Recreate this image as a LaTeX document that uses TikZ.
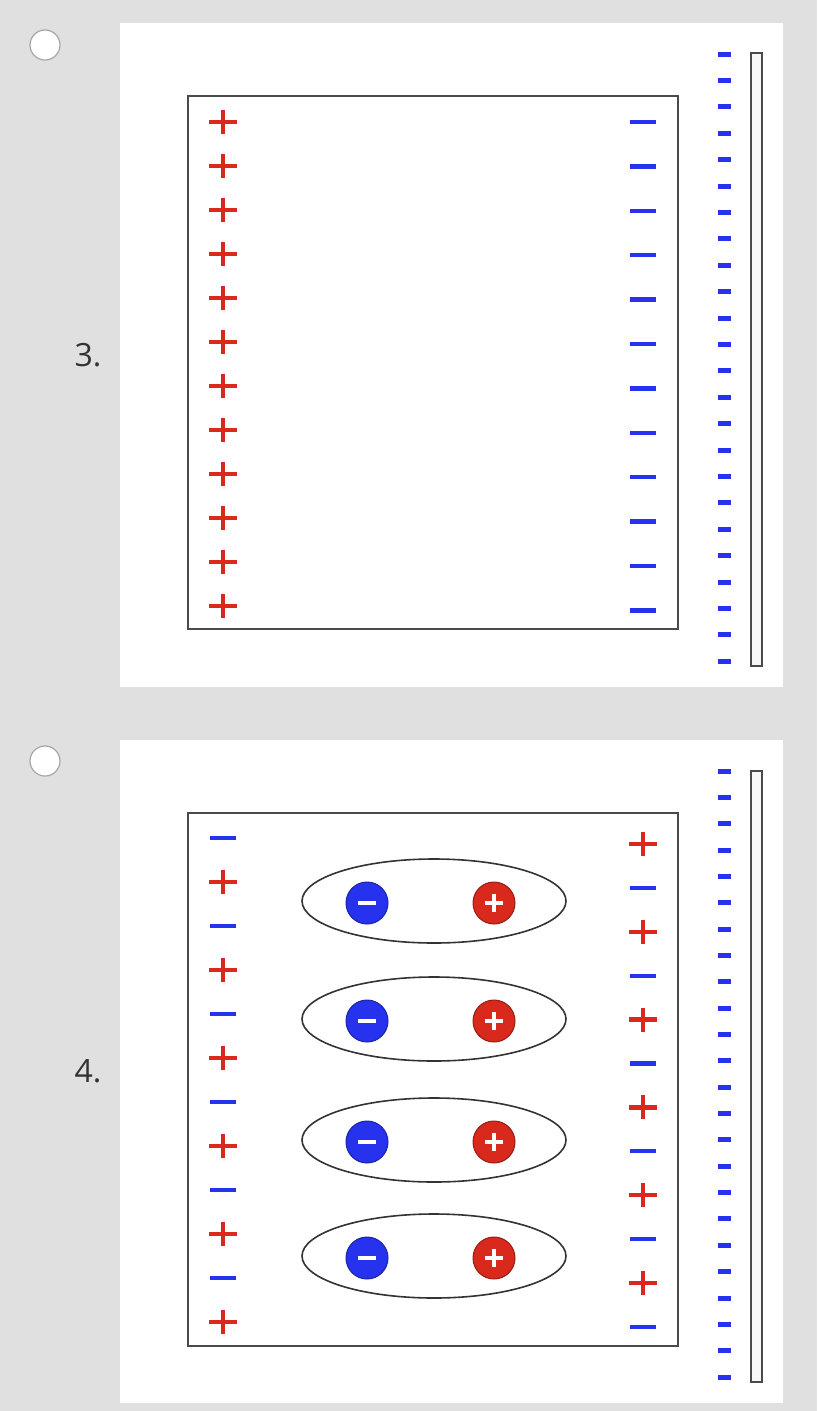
\documentclass[tikz,border=0pt]{standalone}
\usepackage{fontspec}
\setmainfont{Open Sans}
\definecolor{pagegray}{HTML}{E0E0E0}
\definecolor{chargered}{HTML}{D8291C}
\definecolor{chargeblue}{HTML}{2632EE}
\definecolor{framegray}{HTML}{4A4A4A}

\tikzset{
  plussign/.style={chargered, line width=4.3pt},
  minussign/.style={chargeblue, line width=4.3pt},
  outerdash/.style={chargeblue, line width=5pt},
  platebar/.style={draw=framegray, fill=gray!6, line width=1.8pt},
  dielbox/.style={draw=framegray, line width=2.2pt},
  molecule/.style={draw=black!80, line width=1.6pt},
  radiobtn/.style={draw=gray!70, fill=white, line width=1.2pt},
  optlabel/.style={font=\fontsize{32}{32}\selectfont, text=black!80}
}
\newcommand{\plusat}[2]{\draw[plussign, shift={(#1,#2)}] (-14,0) -- (14,0) (0,-12) -- (0,12);}
\newcommand{\minusat}[2]{\draw[minussign, shift={(#1,#2)}] (-13,0) -- (13,0);}

\begin{document}
\begin{tikzpicture}[x=1pt, y=-1pt]
  \useasboundingbox (0,0) rectangle (817,1411);
  \fill[pagegray] (0,0) rectangle (817,1411);

  % option 3
  \fill[white] (120,23) rectangle (783,687);
  \node[radiobtn, circle, minimum size=30pt, inner sep=0pt] (radio3) at (45,45) {};
  \node[optlabel] (lbl3) at (88,355) {3.};
  \draw[dielbox] (188,96) rectangle (678,629);
  \foreach \i in {0,...,11} {
    \plusat{223}{122+44.0*\i}
    \minusat{643}{122+44.4*\i}
  }
  \foreach \i in {0,...,23}
    \draw[outerdash] (718,54+26.4*\i) -- (731,54+26.4*\i);
  \draw[platebar] (751,53) rectangle (762,666);

  % option 4
  \fill[white] (120,740) rectangle (783,1403);
  \node[radiobtn, circle, minimum size=30pt, inner sep=0pt] (radio4) at (45,761) {};
  \node[optlabel] (lbl4) at (88,1071) {4.};
  \draw[dielbox] (188,813) rectangle (678,1346);
  \foreach \i in {0,...,11} {
    \ifodd\i
      \plusat{223}{838+44.0*\i}
      \minusat{643}{844+43.9*\i}
    \else
      \minusat{223}{838+44.0*\i}
      \plusat{643}{844+43.9*\i}
    \fi
  }
  \foreach \i in {0,...,23}
    \draw[outerdash] (718,771+26.35*\i) -- (731,771+26.35*\i);
  \draw[platebar] (751,771) rectangle (762,1382);

  % dipoles
  \foreach \y [count=\k] in {901,1019,1140,1256} {
    \draw[molecule] (434,\y) ellipse [x radius=132, y radius=42];
    \node[circle, fill=chargeblue, draw=chargeblue!70!black, line width=1pt, minimum size=42pt, inner sep=0pt] (neg\k) at (367,\y+2) {};
    \node[circle, fill=chargered, draw=chargered!70!black, line width=1pt, minimum size=42pt, inner sep=0pt] (pos\k) at (494,\y+2) {};
    \draw[white, line width=3.5pt] ([xshift=-9pt]neg\k.center) -- ([xshift=9pt]neg\k.center);
    \draw[white, line width=3.5pt] ([xshift=-9pt]pos\k.center) -- ([xshift=9pt]pos\k.center)
      ([yshift=-9pt]pos\k.center) -- ([yshift=9pt]pos\k.center);
  }
\end{tikzpicture}
\end{document}
